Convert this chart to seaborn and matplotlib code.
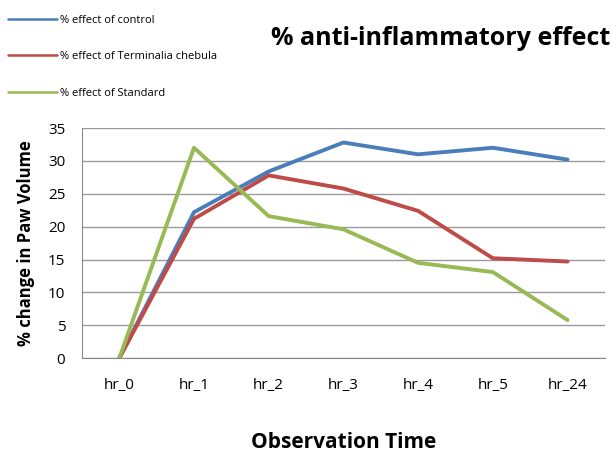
import matplotlib
matplotlib.use("Agg")
import matplotlib.pyplot as plt
import seaborn as sns
import pandas as pd

categories = ["hr_0", "hr_1", "hr_2", "hr_3", "hr_4", "hr_5", "hr_24"]
control = [0, 22.2, 28.4, 32.8, 31.0, 32.0, 30.2]
terminalia = [0, 21.2, 27.8, 25.8, 22.4, 15.2, 14.7]
standard = [0, 32.0, 21.6, 19.6, 14.5, 13.1, 5.8]
series_names = ["% effect of control", "% effect of Terminalia chebula", "% effect of Standard"]
colors = ["#4A7EBB", "#BE4B48", "#98B954"]

rows = []
for name, vals in zip(series_names, [control, terminalia, standard]):
    for i, (c, v) in enumerate(zip(categories, vals)):
        rows.append({"pos": i, "Time": c, "value": v, "series": name})
df = pd.DataFrame(rows)

sns.set_style("white")
plt.rcParams["font.family"] = ["Open Sans", "DejaVu Sans"]
for k in ["text.color", "axes.labelcolor", "xtick.color", "ytick.color"]:
    plt.rcParams[k] = "black"

fig = plt.figure(figsize=(6.16, 4.54), dpi=100)
ax = fig.add_axes([0.133, 0.211, 0.849, 0.507])

sns.lineplot(data=df, x="pos", y="value", hue="series", hue_order=series_names,
             palette=colors, linewidth=2.8, ax=ax, legend=False, sort=False)

ax.set_xlim(-0.5, len(categories) - 0.5)
ax.set_ylim(0, 35)
ax.set_yticks(range(0, 36, 5))
ax.set_xticks(range(len(categories)))
ax.set_xticklabels(categories, fontsize=11)
ax.tick_params(axis="x", length=0, pad=14)
ax.tick_params(axis="y", labelsize=11, length=0, pad=12)
ax.set_xticks([i - 0.5 for i in range(len(categories) + 1)], minor=True)
ax.tick_params(axis="x", which="minor", length=5, color="#888888", direction="out")
ax.yaxis.grid(True, color="#9a9a9a", linewidth=1)
ax.xaxis.grid(False)
for s in ["top", "right"]:
    ax.spines[s].set_visible(False)
ax.spines["left"].set_color("#888888")
ax.spines["bottom"].set_color("#888888")
ax.set_axisbelow(True)

ax.set_xlabel("Observation Time", fontsize=15, fontweight="bold", labelpad=28)
ax.set_ylabel("% change in Paw Volume", fontsize=12, fontweight="bold", labelpad=9)

fig.text(0.99, 0.915, "% anti-inflammatory effect", fontsize=18, fontweight="bold",
         ha="right", va="center")

from matplotlib.lines import Line2D
handles = [Line2D([0], [0], color=c, linewidth=1.8) for c in colors]
fig.legend(handles, series_names, loc="upper left", bbox_to_anchor=(0.0, 0.985),
           frameon=False, fontsize=8, handlelength=4.4, handletextpad=0.3,
           labelspacing=2.3, borderaxespad=0.3)

fig.savefig("out.png", dpi=100)
